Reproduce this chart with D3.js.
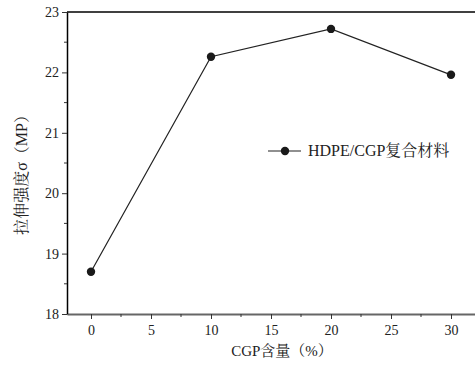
<!DOCTYPE html>
<html>
<head>
<meta charset="utf-8">
<script src="https://cdn.jsdelivr.net/npm/d3@7"></script>
<style>
  body { margin: 0; background: #fff; }
</style>
</head>
<body>
<div id="chart"></div>
<script>
// data
const cgpContent = [0, 10, 20, 30];
const tensileStrength = [18.70, 22.26, 22.72, 21.96];
const xTicks = [0, 5, 10, 15, 20, 25, 30];
const yTicks = [18, 19, 20, 21, 22, 23];
const seriesName = "HDPE/CGP复合材料";

const fontFam = "'Liberation Serif', 'Noto Serif CJK SC', 'Noto Sans CJK SC', serif";
const width = 475, height = 367;
const margin = { top: 12, right: 0, bottom: 53, left: 67 };

const svg = d3.select("#chart")
  .append("svg")
  .attr("width", width)
  .attr("height", height);

const x = d3.scaleLinear().domain([-2, 32]).range([margin.left, width - margin.right]);
const y = d3.scaleLinear().domain([18, 23]).range([height - margin.bottom, margin.top]);

// top frame line
svg.append("line")
  .attr("x1", margin.left).attr("x2", width)
  .attr("y1", y(23)).attr("y2", y(23))
  .attr("stroke", "#000").attr("stroke-width", 1.5);

// minor ticks
const xMinor = d3.range(-0, 32, 2.5).filter(v => v % 5 !== 0);
const yMinor = d3.range(18.5, 23, 1);

const xAxis = svg.append("g")
  .attr("transform", `translate(0,${y(18)})`)
  .call(d3.axisBottom(x).tickValues(xTicks).tickSize(5).tickSizeOuter(0).tickPadding(6));
xAxis.select(".domain").attr("stroke", "#666").attr("stroke-width", 2);
xAxis.selectAll(".tick line").attr("stroke", "#333");
xAxis.selectAll("text").attr("font-size", 14).attr("fill", "#222").style("font-family", fontFam);
xAxis.selectAll(".minor").data(xMinor).enter().append("line")
  .attr("x1", d => x(d)).attr("x2", d => x(d))
  .attr("y1", 0).attr("y2", 3).attr("stroke", "#333");

const yAxis = svg.append("g")
  .attr("transform", `translate(${margin.left},0)`)
  .call(d3.axisLeft(y).tickValues(yTicks).tickFormat(d3.format("d")).tickSize(5).tickSizeOuter(0).tickPadding(3));
yAxis.select(".domain").attr("stroke", "#000").attr("stroke-width", 1.5);
yAxis.selectAll(".tick line").attr("stroke", "#333");
yAxis.selectAll("text").attr("font-size", 14).attr("fill", "#222").style("font-family", fontFam);
yAxis.selectAll(".minor").data(yMinor).enter().append("line")
  .attr("x1", 0).attr("x2", -3)
  .attr("y1", d => y(d)).attr("y2", d => y(d)).attr("stroke", "#333");

const pts = cgpContent.map((c, i) => [c, tensileStrength[i]]);

svg.append("path")
  .datum(pts)
  .attr("fill", "none")
  .attr("stroke", "#222")
  .attr("stroke-width", 1.2)
  .attr("d", d3.line().x(d => x(d[0])).y(d => y(d[1])));

svg.selectAll(".pt").data(pts).enter().append("circle")
  .attr("cx", d => x(d[0])).attr("cy", d => y(d[1]))
  .attr("r", 4.2).attr("fill", "#1a1a1a");

// legend
const lg = svg.append("g").attr("transform", "translate(268,151)");
lg.append("line").attr("x1", 0).attr("x2", 33).attr("y1", 0).attr("y2", 0)
  .attr("stroke", "#222").attr("stroke-width", 1.2);
lg.append("circle").attr("cx", 17).attr("cy", 0).attr("r", 4.2).attr("fill", "#1a1a1a");
lg.append("text").attr("x", 40).attr("y", 5).attr("font-size", 16).attr("fill", "#222")
  .style("font-family", fontFam).text(seriesName);

// axis titles
svg.append("text")
  .attr("x", 282).attr("y", 356)
  .attr("text-anchor", "middle").attr("font-size", 15).attr("fill", "#222")
  .style("font-family", fontFam)
  .text("CGP含量（%）");

svg.append("text")
  .attr("transform", "translate(27,171) rotate(-90)")
  .attr("text-anchor", "middle").attr("font-size", 16).attr("fill", "#222")
  .style("font-family", fontFam)
  .text("拉伸强度σ（MP）");
</script>
</body>
</html>
